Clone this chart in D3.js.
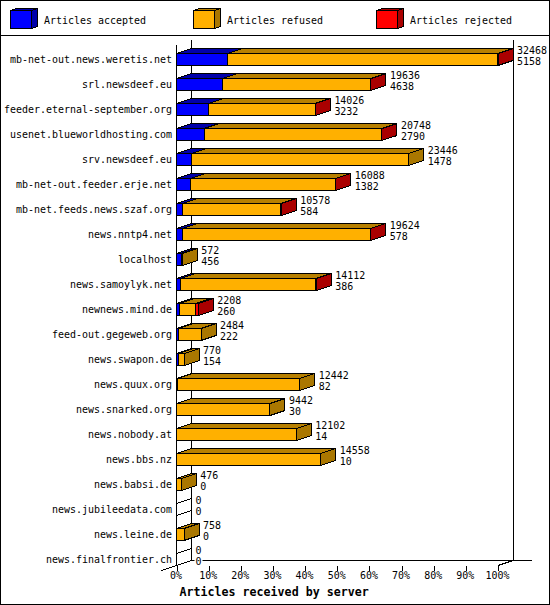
<!DOCTYPE html>
<html>
<head>
<meta charset="utf-8">
<script src="https://cdn.jsdelivr.net/npm/d3@7"></script>
<style>
  html, body { margin: 0; padding: 0; background: #fff; }
  svg { display: block; }
  text { font-family: "DejaVu Sans Mono", monospace; font-size: 11px; fill: #000; }
</style>
</head>
<body>
<div id="chart"></div>
<script>
// 資料
const hosts = ['mb-net-out.news.weretis.net', 'srl.newsdeef.eu', 'feeder.eternal-september.org',
  'usenet.blueworldhosting.com', 'srv.newsdeef.eu', 'mb-net-out.feeder.erje.net',
  'mb-net.feeds.news.szaf.org', 'news.nntp4.net', 'localhost', 'news.samoylyk.net',
  'newnews.mind.de', 'feed-out.gegeweb.org', 'news.swapon.de', 'news.quux.org',
  'news.snarked.org', 'news.nobody.at', 'news.bbs.nz', 'news.babsi.de',
  'news.jubileedata.com', 'news.leine.de', 'news.finalfrontier.ch'];
const totals = [32468, 19636, 14026, 20748, 23446, 16088, 10578, 19624, 572, 14112,
  2208, 2484, 770, 12442, 9442, 12102, 14558, 476, 0, 758, 0];
const accepted = [5158, 4638, 3232, 2790, 1478, 1382, 584, 578, 456, 386,
  260, 222, 154, 82, 30, 14, 10, 0, 0, 0, 0];
// 圖上沒有標示 rejected 的數字，從紅色寬度估計
const rejected = [60, 40, 30, 30, 0, 40, 30, 40, 0, 30,
  250, 0, 0, 0, 0, 0, 0, 0, 0, 0, 0];
const percentTicks = [0, 10, 20, 30, 40, 50, 60, 70, 80, 90, 100];
const legendNames = ['Articles accepted', 'Articles refused', 'Articles rejected'];

const colors = [
  { front: '#0000ff', top: '#0000aa', side: '#0000aa' },
  { front: '#ffb000', top: '#b88000', side: '#aa7700' },
  { front: '#ff0000', top: '#aa0000', side: '#aa0000' }
];

const width = 550, height = 605;

const svg = d3.select('#chart').append('svg')
  .attr('width', width)
  .attr('height', height);

svg.append('rect')
  .attr('x', 0.5).attr('y', 0.5)
  .attr('width', width - 1).attr('height', height - 1)
  .attr('fill', '#fff').attr('stroke', '#000');

svg.append('line')
  .attr('x1', 0).attr('x2', width)
  .attr('y1', 35.5).attr('y2', 35.5)
  .attr('stroke', '#000').attr('shape-rendering', 'crispEdges');

// 比例尺
const maxTotal = d3.max(totals);
const x = d3.scaleLinear().domain([0, maxTotal]).range([176.5, 498]);
const xPercent = d3.scaleLinear().domain([0, 100]).range([176.5, 498]);
const y = d3.scalePoint().domain(hosts).range([59.5, 559.5]);

// 畫一個立方塊：正面、上面、側面
function drawBox(g, x0, x1, top, bottom, c, dx, dy) {
  g.append('polygon')
    .attr('points', [[x0, top], [x0 + dx, top - dy], [x1 + dx, top - dy], [x1, top]].join(' '))
    .attr('fill', c.top).attr('stroke', '#000');
  g.append('polygon')
    .attr('points', [[x1, top], [x1 + dx, top - dy], [x1 + dx, bottom - dy], [x1, bottom]].join(' '))
    .attr('fill', c.side).attr('stroke', '#000');
  g.append('rect')
    .attr('x', x0).attr('y', top)
    .attr('width', x1 - x0).attr('height', bottom - top)
    .attr('fill', c.front).attr('stroke', '#000');
}

// 圖例
const legendX = [10.5, 193.5, 376.5];
const legendTextX = [44, 227, 410];
legendNames.forEach((name, i) => {
  const g = svg.append('g').attr('shape-rendering', 'crispEdges');
  drawBox(g, legendX[i], legendX[i] + 21, 10.5, 28.5, colors[i], 6, 2);
  svg.append('text')
    .attr('x', legendTextX[i]).attr('y', 24)
    .text(name);
});

// 座標軸的線
const depthX = 15, depthY = 5;
const frame = svg.append('g').attr('stroke', '#000').attr('fill', 'none');
const backX0 = x(0) + depthX, backX1 = x(maxTotal) + depthX;
const floorY = 560.5, frontY = floorY + depthY;

frame.append('line').attr('x1', x(0)).attr('x2', x(0)).attr('y1', 45).attr('y2', frontY)
  .attr('shape-rendering', 'crispEdges');
frame.append('line').attr('x1', backX0).attr('x2', backX0).attr('y1', 40).attr('y2', floorY)
  .attr('shape-rendering', 'crispEdges');
frame.append('line').attr('x1', backX1).attr('x2', backX1).attr('y1', 40).attr('y2', floorY)
  .attr('shape-rendering', 'crispEdges');
frame.append('line').attr('x1', backX0).attr('x2', 532).attr('y1', floorY).attr('y2', floorY)
  .attr('shape-rendering', 'crispEdges');
frame.append('line').attr('x1', 161.5).attr('y1', 570.5).attr('x2', backX0).attr('y2', floorY)
  .attr('shape-rendering', 'crispEdges');
frame.append('line').attr('x1', x(maxTotal)).attr('y1', frontY).attr('x2', backX1).attr('y2', floorY)
  .attr('shape-rendering', 'crispEdges');

// x 軸
const xAxis = d3.axisBottom(xPercent)
  .tickValues(percentTicks)
  .tickFormat(d => d + '%')
  .tickSize(5)
  .tickPadding(1);
const axisG = svg.append('g')
  .attr('transform', `translate(0,${frontY})`)
  .call(xAxis);
axisG.select('.domain').remove();
axisG.selectAll('line').attr('stroke', '#000').attr('shape-rendering', 'crispEdges');
axisG.selectAll('text').attr('dx', -1);
axisG.attr('font-family', null).attr('font-size', null);

// 每一列的長條
hosts.forEach((host, i) => {
  const g = svg.append('g').attr('shape-rendering', 'crispEdges');
  const cy = y(host);
  const top = cy - 6, bottom = cy + 6;
  const a = accepted[i], rej = rejected[i], total = totals[i];
  const refusedEnd = total - rej;

  svg.append('text')
    .attr('x', 172).attr('y', cy + 3.5)
    .attr('text-anchor', 'end')
    .text(host);

  if (total === 0) {
    // 沒有資料：只剩兩條斜線
    [top, bottom].forEach(v => {
      g.append('line')
        .attr('x1', x(0)).attr('y1', v)
        .attr('x2', x(0) + depthX).attr('y2', v - depthY)
        .attr('stroke', '#000');
    });
  } else {
    if (a > 0) drawBox(g, x(0), x(a), top, bottom, colors[0], depthX, depthY);
    if (refusedEnd > a) drawBox(g, x(a), x(refusedEnd), top, bottom, colors[1], depthX, depthY);
    if (rej > 0) drawBox(g, x(refusedEnd), x(total), top, bottom, colors[2], depthX, depthY);
  }

  const labelX = x(total) + depthX + 4;
  [total, a].forEach((v, k) => {
    const label = String(v);
    svg.append('rect')
      .attr('x', labelX - 1).attr('y', cy - 14.5 + k * 11)
      .attr('width', label.length * 6 + 2).attr('height', 11)
      .attr('fill', '#fff');
    svg.append('text')
      .attr('x', labelX).attr('y', cy - 5.5 + k * 11)
      .text(label);
  });
});

// 字寬固定 6px，和原圖的點陣字一樣
svg.selectAll('text')
  .attr('textLength', function() { return this.textContent.length * 6; })
  .attr('lengthAdjust', 'spacingAndGlyphs');

svg.append('text')
  .attr('x', 179.5).attr('y', 596)
  .style('font-weight', 'bold')
  .style('font-size', '11.65px')
  .text('Articles received by server');
</script>
</body>
</html>
